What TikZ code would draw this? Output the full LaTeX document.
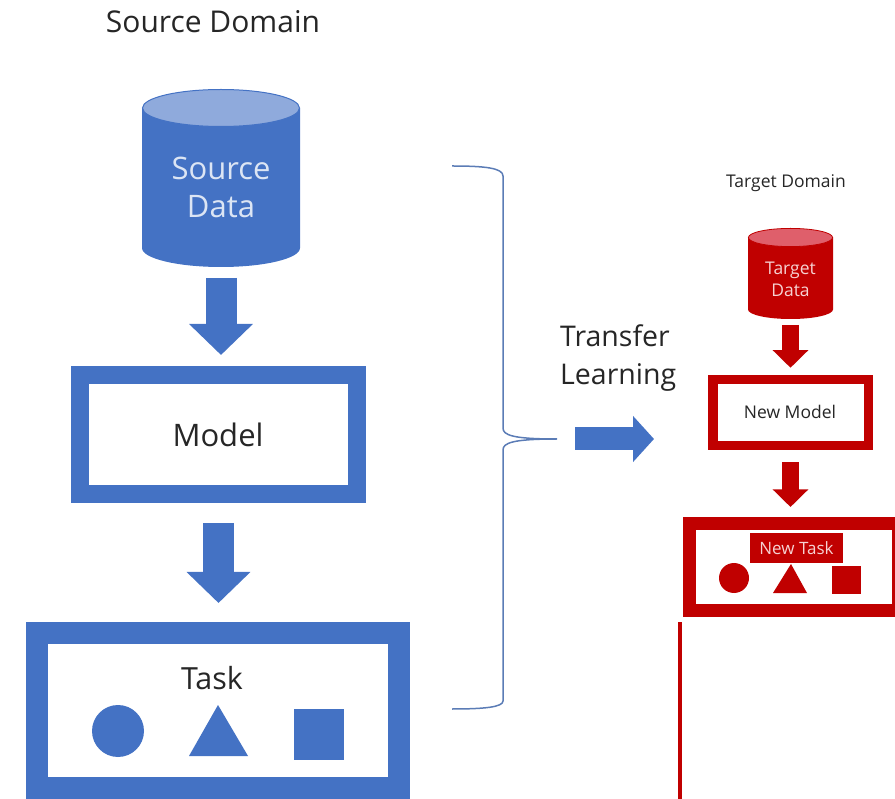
\documentclass[tikz,border=0pt]{standalone}
\usepackage{fontspec}
\setmainfont{Open Sans}
\usetikzlibrary{arrows.meta}

\definecolor{srcblue}{HTML}{4472C4}
\definecolor{srctop}{HTML}{8FAADC}
\definecolor{srclight}{HTML}{DCE5F4}
\definecolor{tgtred}{HTML}{C00000}
\definecolor{tgttop}{HTML}{DF5F6B}
\definecolor{tgtlight}{HTML}{F6D2D2}
\definecolor{bracecol}{HTML}{5B7CB6}
\definecolor{titlegray}{HTML}{262626}

\tikzset{
  txt/.style={inner sep=0pt,text=titlegray},
  box/.style={draw,fill=white,inner sep=0pt,outer sep=0.5\pgflinewidth},
  hold/.style={inner sep=0pt,outer sep=0pt},
}

\begin{document}
\begin{tikzpicture}[x=1pt,y=-1pt,
  bluearrow/.style={draw=srcblue,line width=31pt,-{Triangle[width=62pt,length=31pt]}},
  redarrow/.style={draw=tgtred,line width=17.5pt,-{Triangle[width=34.5pt,length=17.5pt]}},
  brace/.style={draw=bracecol,line width=1.5pt}]
\useasboundingbox (0,0) rectangle (895,799);

% source side
\node[txt,font=\fontsize{30}{35}\selectfont] (srctitle) at (213,22) {Source Domain};
\node[hold,minimum width=158pt,minimum height=178pt] (srcdata) at (221,178) {};
\fill[srcblue] (142,108) -- (142,248) arc[start angle=180,end angle=0,x radius=79,y radius=19] -- (300,108) -- cycle;
\filldraw[fill=srctop,draw=srcblue,line width=1pt] (221,108) ellipse[x radius=78.5,y radius=18.5];
\node[txt,text=srclight,align=center,font=\fontsize{31}{38}\selectfont] (srclabel) at (221,187) {Source\\Data};
\node[box,draw=srcblue,line width=18pt,minimum width=277pt,minimum height=119pt] (model) at (218.5,434.5) {};
\node[txt,font=\fontsize{31}{38}\selectfont] (modellabel) at (218,435) {Model};
\node[box,draw=srcblue,line width=22pt,minimum width=361.5pt,minimum height=155pt] (task) at (217.75,710.5) {};
\node[txt,font=\fontsize{30.5}{36}\selectfont] (tasklabel) at (212,678) {Task};

\fill[srcblue] (118,731) circle[radius=26];
\fill[srcblue] (218,705) -- (248,756) -- (189,756) -- cycle;
\fill[srcblue] (294,709) rectangle (344,760);

\draw[bluearrow,shorten <=11pt,shorten >=11pt] (srcdata.south) -- (srcdata.south |- model.north);
\draw[bluearrow,shorten <=20pt,shorten >=19pt] (model.south) -- (model.south |- task.north);

% brace and transfer
\coordinate (bracetip) at (557,439);
\coordinate (tlend) at (654,439);
\draw[brace] (452,166) .. controls (485,166) and (503,168) .. (503,176) -- (503,428)
  .. controls (503,435) and (512,439) .. (bracetip)
  .. controls (512,439) and (503,443) .. (503,450) -- (503,701)
  .. controls (503,707) and (485,709) .. (452,709);
\draw[draw=srcblue,line width=23pt,-{Triangle[width=45pt,length=21pt]},shorten <=18pt] (bracetip) -- (tlend);
\node[txt,anchor=base west,align=left,font=\fontsize{28.5}{38}\selectfont] (tllabel) at (560,385) {Transfer\\Learning};

% target side
\node[txt,font=\fontsize{17.5}{22}\selectfont] (tgttitle) at (786,183) {Target Domain};
\node[hold,minimum width=85pt,minimum height=91pt] (tgtdata) at (790.5,273.5) {};
\fill[tgtred] (748,237.5) -- (748,309.5) arc[start angle=180,end angle=0,x radius=42.5,y radius=9.5] -- (833,237.5) -- cycle;
\filldraw[fill=tgttop,draw=tgtred,line width=0.8pt] (790.5,237.5) ellipse[x radius=42.1,y radius=9.1];
\node[txt,text=tgtlight,align=center,font=\fontsize{17.5}{22}\selectfont] (tgtlabel) at (790.5,279) {Target\\Data};
\node[box,draw=tgtred,line width=9.5pt,minimum width=155.5pt,minimum height=66pt] (newmodel) at (790.5,412.5) {};
\node[txt,font=\fontsize{17.5}{21}\selectfont] (newmodellabel) at (790,412) {New Model};
\node[box,draw=tgtred,line width=13.5pt,minimum width=208.75pt,minimum height=86.5pt] (newtask) at (794.1,567) {};
\node[fill=tgtred,text=tgtlight,inner sep=0pt,minimum width=93pt,minimum height=30pt,
  font=\fontsize{17}{20}\selectfont] (newtasklabel) at (796.5,548) {New Task};

\fill[tgtred] (734,578) circle[radius=15];
\fill[tgtred] (791,564) -- (807,593) -- (773,593) -- cycle;
\fill[tgtred] (832,566) rectangle (861,594);

\draw[redarrow,shorten <=6pt,shorten >=7pt] (tgtdata.south) -- (tgtdata.south |- newmodel.north);
\draw[redarrow,shorten <=12pt,shorten >=10pt] (newmodel.south) -- (newmodel.south |- newtask.north);

\draw[tgtred,line width=4pt] (680,622) -- (680,799);
\end{tikzpicture}
\end{document}
